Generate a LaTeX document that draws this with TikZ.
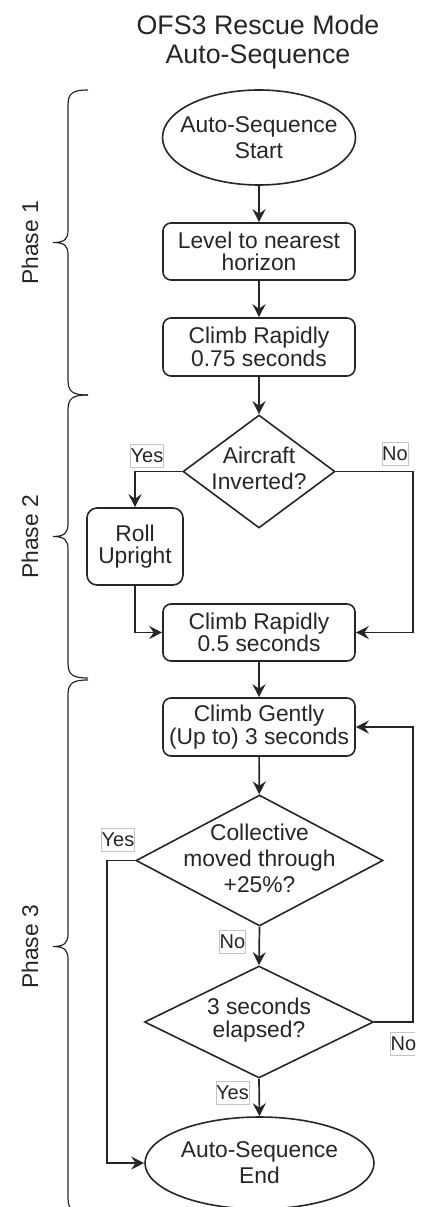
\documentclass[tikz,border=0pt]{standalone}
\usepackage{fontspec}
\setmainfont{Liberation Sans}
\usetikzlibrary{shapes.geometric,arrows.meta}
\definecolor{ink}{HTML}{262626}
\definecolor{lblborder}{HTML}{C4C4C4}
\begin{document}
\begin{tikzpicture}[x=1pt,y=-1pt,
  txt/.style={text=ink, align=center, font=\fontsize{22.8}{26}\selectfont},
  boxtxt/.style={text=ink, align=center, font=\fontsize{22.8}{22.5}\selectfont},
  stepbox/.style={draw=ink, line width=1.6pt, rounded corners=8pt, minimum width=192pt, minimum height=57pt, inner sep=0pt, boxtxt},
  ell/.style={ellipse, draw=ink, line width=1.6pt, inner sep=0pt},
  dia/.style={diamond, draw=ink, line width=1.6pt, inner sep=0pt},
  conn/.style={draw=ink, line width=1.7pt, -{Stealth[length=13pt,width=13pt,inset=4.5pt]}},
  lab/.style={draw=lblborder, line width=0.7pt, fill=white, text=ink, font=\fontsize{20}{20}\selectfont, inner xsep=0.3pt, inner ysep=0pt, minimum height=23pt},
  brace/.style={draw=ink, line width=1.2pt}
]
\useasboundingbox (0,0) rectangle (429,1207);
\clip (0,0) rectangle (415,1207);

% title
\node[font=\fontsize{26.8}{28.5}\selectfont, text=ink, align=center] (title) at (258,42) {OFS3 Rescue Mode\\Auto-Sequence};

% phase braces
\draw[brace] (88,90) .. controls (73,90) and (68,93) .. (68,105) -- (68,230) .. controls (68,239) and (65,242.5) .. (53,242.5) .. controls (65,242.5) and (68,246) .. (68,255) -- (68,380) .. controls (68,392) and (73,395) .. (88,395);
\draw[brace] (88,395) .. controls (73,395) and (68,398) .. (68,410) -- (68,523.5) .. controls (68,532.5) and (65,536.5) .. (53,536.5) .. controls (65,536.5) and (68,540.5) .. (68,549.5) -- (68,663) .. controls (68,675) and (73,678) .. (88,678);
\draw[brace] (88,680) .. controls (73,680) and (68,683) .. (68,695) -- (68,933.5) .. controls (68,942.5) and (65,946.5) .. (53,946.5) .. controls (65,946.5) and (68,950.5) .. (68,959.5) -- (68,1198) .. controls (68,1210) and (73,1213) .. (88,1213);

\node[txt, rotate=90] (p1) at (30,243) {Phase 1};
\node[txt, rotate=90] (p2) at (30,537) {Phase 2};
\node[txt, rotate=90] (p3) at (30,947) {Phase 3};

% nodes
\node[ell, minimum width=193pt, minimum height=95pt, label={[txt]center:{Auto-Sequence\\Start}}] (start) at (259,137.5) {};
\node[stepbox] (level) at (259,251.5) {Level to nearest\\horizon};
\node[stepbox, minimum height=58pt] (climb1) at (259,347) {Climb Rapidly\\0.75 seconds};
\node[dia, minimum width=152pt, minimum height=113pt, label={[txt, yshift=3pt]center:{Aircraft\\Inverted?}}] (inv) at (259,471.5) {};
\node[stepbox, minimum width=96pt, minimum height=77pt, rounded corners=10pt] (roll) at (135,546.5) {Roll\\Upright};
\node[stepbox] (climb2) at (259,632.5) {Climb Rapidly\\0.5 seconds};
\node[stepbox, minimum height=58pt] (gently) at (259,727) {Climb Gently\\(Up to) 3 seconds};
\node[dia, minimum width=247pt, minimum height=131pt, label={[txt, yshift=2pt]center:{Collective\\moved through\\+25\%?}}] (coll) at (259.5,860.5) {};
\node[dia, minimum width=229pt, minimum height=112pt, label={[boxtxt, yshift=2pt]center:{3 seconds\\elapsed?}}] (elapsed) at (259,1022) {};
\node[ell, minimum width=229pt, minimum height=92pt, label={[txt]center:{Auto-Sequence\\End}}] (end) at (259.5,1163) {};

% helper corners
\coordinate (invR) at (413,471.5);
\coordinate (collL) at (107,860.5);
\coordinate (elapR) at (413,1022);

% connectors
\draw[conn] (start) -- (level);
\draw[conn] (level) -- (climb1);
\draw[conn] (climb1) -- (inv);
\draw[conn] (inv.west) -| (roll.north);
\draw[conn] (inv.east) -- (invR) |- (climb2.east);
\draw[conn] (roll.south) |- (climb2.west);
\draw[conn] (climb2) -- (gently);
\draw[conn] (gently) -- (coll);
\draw[conn] (coll.west) -- (collL) |- (end.west);
\draw[conn] (coll.south) -- (elapsed.north);
\draw[conn] (elapsed.east) -- (elapR) |- (gently.east);
\draw[conn] (elapsed.south) -- (end.north);

% edge labels
\node[lab] (yes1) at (147,455.5) {Yes};
\node[lab] (no1) at (395,454) {No};
\node[lab] (yes2) at (118,839.5) {Yes};
\node[lab] (no2) at (232.5,942) {No};
\node[lab, anchor=west] (no3) at (390,1043.5) {No};
\node[lab] (yes3) at (232.5,1092.5) {Yes};
\end{tikzpicture}
\end{document}
